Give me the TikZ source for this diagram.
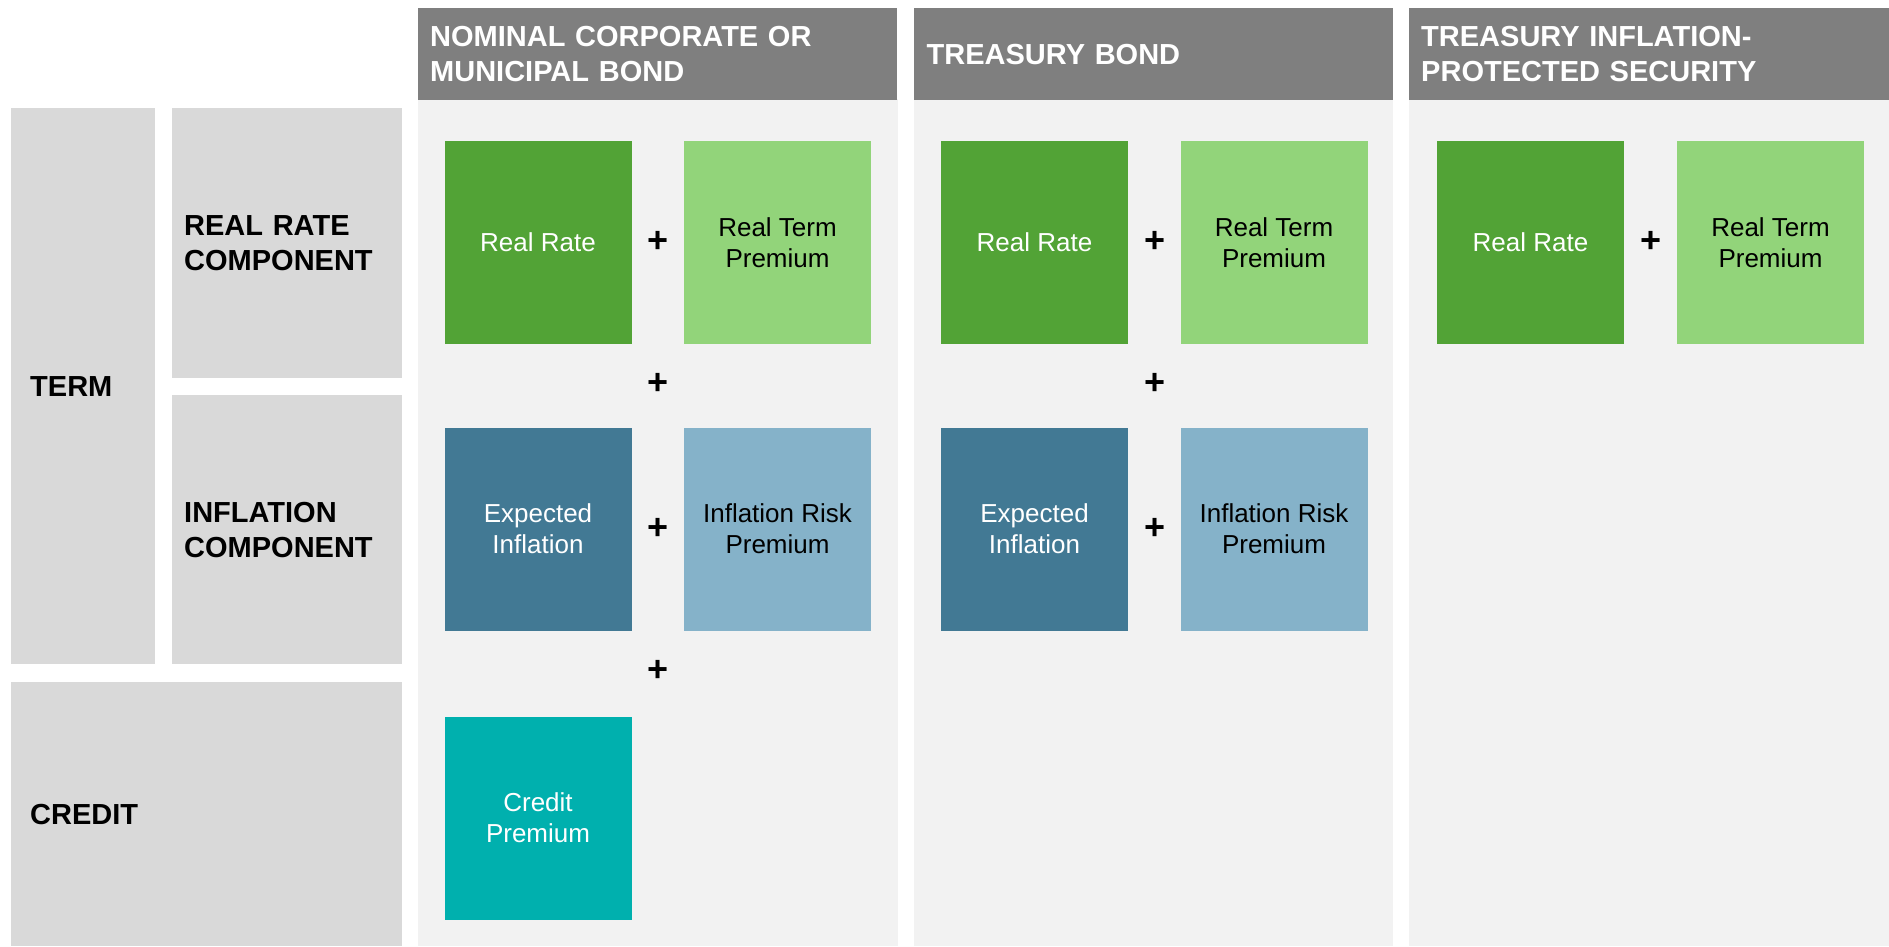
\documentclass[tikz,border=0pt]{standalone}
\usepackage{fontspec}
\setmainfont{Liberation Sans}
\usetikzlibrary{positioning}

\definecolor{headgray}{HTML}{7F7F7F}
\definecolor{colbg}{HTML}{F2F2F2}
\definecolor{sidegray}{HTML}{D9D9D9}
\definecolor{realgreen}{HTML}{52A336}
\definecolor{termgreen}{HTML}{92D47A}
\definecolor{expblue}{HTML}{427994}
\definecolor{riskblue}{HTML}{85B2C9}
\definecolor{credteal}{HTML}{00B0AE}

\begin{document}
\begin{tikzpicture}[x=1pt,y=-1pt,
    part/.style={minimum width=187pt,minimum height=203pt,inner sep=0pt,
      align=center,font=\fontsize{26}{31}\selectfont},
    darkpart/.style={part,text=white},
    plus/.style={inner sep=0pt,font=\fontsize{36}{36}\selectfont\bfseries},
    header/.style={fill=headgray,text=white,anchor=north west,
      minimum width=479pt,minimum height=92pt,inner xsep=12pt,inner ysep=0pt,
      text width=455pt,align=left,font=\fontsize{29}{35}\selectfont\bfseries},
    side/.style={fill=sidegray,anchor=north west,inner ysep=0pt,align=left,
      font=\fontsize{29}{35}\selectfont\bfseries}]
    \useasboundingbox (0,0) rectangle (1889,946);

    % columns
    \fill[colbg] (418,99) rectangle (898,946);
    \fill[colbg] (914,99) rectangle (1393,946);
    \fill[colbg] (1409,99) rectangle (1889,946);
    \node[header] (hnom) at (418,8) {NOMINAL CORPORATE OR\\MUNICIPAL BOND};
    \node[header,text width=454pt] (htr) at (914,8) {TREASURY BOND};
    \node[header,text width=456pt,minimum width=480pt] (htips) at (1409,8) {TREASURY INFLATION-\\PROTECTED SECURITY};

    % row labels
    \node[side,minimum width=144pt,minimum height=556pt,inner xsep=19pt,text width=106pt] (term) at (11,108) {TERM};
    \node[side,minimum width=230pt,minimum height=270pt,inner xsep=12pt,text width=206pt] (realc) at (172,108) {REAL RATE\\COMPONENT};
    \node[side,minimum width=230pt,minimum height=269pt,inner xsep=12pt,text width=206pt] (inflc) at (172,395) {INFLATION\\COMPONENT};
    \node[side,minimum width=391pt,minimum height=264pt,inner xsep=19pt,text width=353pt] (credit) at (11,682) {CREDIT};

    % nominal bond
    \node[darkpart,fill=realgreen] (rr1) at (538,242.5) {Real Rate};
    \node[part,fill=termgreen] (rtp1) at (777.5,242.5) {Real Term\\Premium};
    \node[darkpart,fill=expblue] (ei1) at (538,529) {Expected\\Inflation};
    \node[part,fill=riskblue] (irp1) at (777.5,529) {Inflation Risk\\Premium};
    \node[darkpart,fill=credteal] (cp1) at (538,818) {Credit\\Premium};
    \node[plus] (p1a) at (658.5,242) {+};
    \node[plus] (p1b) at (658.5,384) {+};
    \node[plus] (p1c) at (658.5,529) {+};
    \node[plus] (p1d) at (658.5,671) {+};

    % treasury bond
    \node[darkpart,fill=realgreen] (rr2) at (1034.5,242.5) {Real Rate};
    \node[part,fill=termgreen] (rtp2) at (1274,242.5) {Real Term\\Premium};
    \node[darkpart,fill=expblue] (ei2) at (1034.5,529) {Expected\\Inflation};
    \node[part,fill=riskblue] (irp2) at (1274,529) {Inflation Risk\\Premium};
    \node[plus] (p2a) at (1154.5,242) {+};
    \node[plus] (p2b) at (1154.5,384) {+};
    \node[plus] (p2c) at (1154.5,529) {+};

    % tips
    \node[darkpart,fill=realgreen] (rr3) at (1530.5,242.5) {Real Rate};
    \node[part,fill=termgreen] (rtp3) at (1770.5,242.5) {Real Term\\Premium};
    \node[plus] (p3a) at (1650.5,242) {+};
\end{tikzpicture}
\end{document}
